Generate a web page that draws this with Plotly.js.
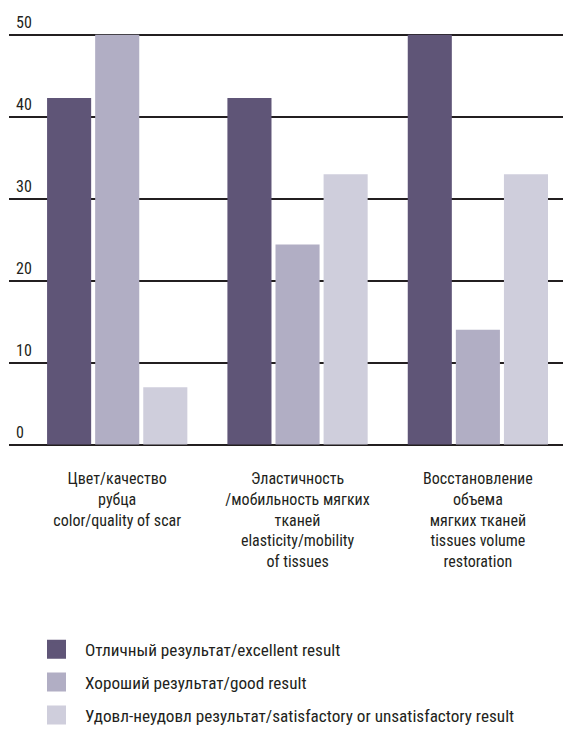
<!DOCTYPE html>
<html>
<head>
<meta charset="utf-8">
<script src="https://cdn.plot.ly/plotly-3.0.1.min.js"></script>
<style>html,body{margin:0;padding:0;background:#fff;}#chart{width:563px;height:729px;}</style>
</head>
<body>
<div id="chart"></div>
<script>
const categories = [
  "Цвет/качество<br>рубца<br>color/quality of scar",
  "Эластичность<br>/мобильность мягких<br>тканей<br>elasticity/mobility<br>of tissues",
  "Восстановление<br>объема<br>мягких тканей<br>tissues volume<br>restoration"
];
const seriesNames = [
  "Отличный результат/excellent result",
  "Хороший результат/good result",
  "Удовл-неудовл результат/satisfactory or unsatisfactory result"
];
const excellent = [42.3, 42.3, 50];
const good = [50, 24.4, 14];
const satisfactory = [7, 33, 33];
const yTicks = [0, 10, 20, 30, 40, 50];

const colors = ["#5f5577", "#b1aec4", "#cfcedc"];
const FONT = "'Liberation Sans Narrow', 'Arial Narrow', 'Roboto Condensed', sans-serif";
const values = [excellent, good, satisfactory];
const xIdx = categories.map((c, i) => i);

const traces = [];
values.forEach((v, k) => {
  traces.push({
    type: 'bar', x: xIdx, y: v, name: seriesNames[k], showlegend: false,
    marker: {color: colors[k], line: {width: 0}}, hoverinfo: 'skip'
  });
});
values.forEach((v, k) => {
  traces.push({
    type: 'scatter', mode: 'markers', x: [null], y: [null], name: seriesNames[k],
    legendgroup: 'g' + k, showlegend: true,
    marker: {symbol: 'square', size: 16, color: colors[k], line: {width: 3, color: colors[k]}}
  });
});

const pxPerUnit = 8.2;
const yTop = 35 - 4 * pxPerUnit;
const yBot = 445 + 2 * pxPerUnit;
const plotH = yBot - yTop;
const layout = {
  width: 563, height: 729,
  margin: {l: 9, r: 0, t: yTop, b: 729 - yBot, pad: 0, autoexpand: false},
  paper_bgcolor: '#fff', plot_bgcolor: '#fff',
  font: {family: FONT, color: '#231f20', size: 16},
  barmode: 'group', bargap: 0.2, bargroupgap: 0.0833,
  showlegend: true,
  legend: {
    x: (28 - 9) / 554, xanchor: 'left', y: (yBot - 632) / plotH, yanchor: 'top',
    orientation: 'v', font: {family: FONT, size: 17.2, color: '#231f20'},
    tracegroupgap: 7.5, itemsizing: 'trace', itemwidth: 47, bgcolor: 'rgba(0,0,0,0)'
  },
  xaxis: {
    range: [-0.6, 2.472], tickmode: 'array', tickvals: xIdx, ticktext: categories,
    showgrid: false, zeroline: false, showline: false, ticks: '', ticklabelstandoff: 6,
    tickfont: {family: FONT, size: 16, color: '#231f20'}, fixedrange: true
  },
  yaxis: {
    range: [-2, 54], tickmode: 'array', tickvals: yTicks, ticktext: yTicks.map(String),
    showgrid: true, gridcolor: '#231f20', gridwidth: 2, zeroline: false, showline: false,
    ticks: '', ticklabelposition: 'inside', ticklabelshift: -12, ticklabelstandoff: 4,
    tickfont: {family: FONT, size: 16, color: '#231f20'}, fixedrange: true
  }
};
Plotly.newPlot('chart', traces, layout, {displayModeBar: false, staticPlot: true});
</script>
</body>
</html>
